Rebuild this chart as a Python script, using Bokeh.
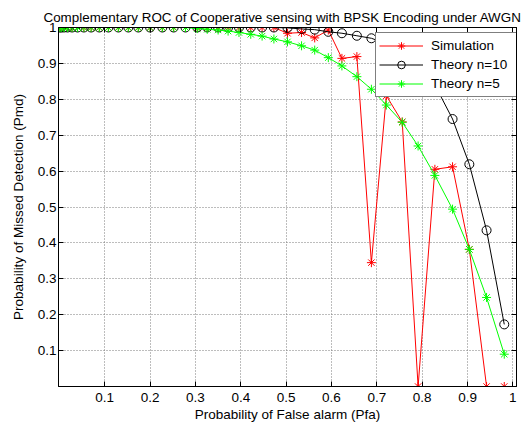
from bokeh.plotting import figure
from bokeh.embed import file_html
from bokeh.resources import INLINE
from bokeh.models import FixedTicker, CustomJSTickFormatter, LinearAxis

# ---- data ----
pfa = [0.001, 0.004, 0.010, 0.018, 0.028, 0.040, 0.054, 0.070, 0.088, 0.108,
       0.130, 0.152, 0.174, 0.200, 0.227, 0.252, 0.278, 0.304, 0.326, 0.350,
       0.372, 0.396, 0.422, 0.447, 0.473, 0.503, 0.534, 0.563, 0.593, 0.623,
       0.656, 0.688, 0.721, 0.756, 0.791, 0.828, 0.867, 0.904, 0.942, 0.981]

pmd_sim = [1.0] * 25 + [0.984, 0.986, 0.971, 0.993, 0.914, 0.919, 0.345, 0.81,
                        0.737, 0.0, 0.605, 0.612, 0.382, 0.0, 0.0]

pmd_n10 = [1.0] * 25 + [0.999, 0.996, 0.994, 0.988, 0.984, 0.977, 0.970, 0.955,
                        0.935, 0.900, 0.840, 0.745, 0.619, 0.435, 0.173]

pmd_n5 = [1.0] * 17 + [0.997, 0.995, 0.993, 0.990, 0.986, 0.981, 0.976, 0.968,
                       0.960, 0.949, 0.937, 0.916, 0.893, 0.863, 0.828, 0.784,
                       0.736, 0.670, 0.588, 0.494, 0.382, 0.248, 0.090]

x_ticks = [0.1, 0.2, 0.3, 0.4, 0.5, 0.6, 0.7, 0.8, 0.9, 1.0]
y_ticks = [0.1, 0.2, 0.3, 0.4, 0.5, 0.6, 0.7, 0.8, 0.9, 1.0]

FONT = "Liberation Sans"
FS = "13.5px"

p = figure(width=522, height=424, x_range=(-0.002, 1.008), y_range=(0, 1),
           output_backend="svg", toolbar_location=None,
           title="Complementary ROC of Cooperative sensing with BPSK Encoding under AWGN")
p.min_border_left = 58
p.min_border_right = 6
p.min_border_top = 27
p.min_border_bottom = 38
p.outline_line_color = "black"
p.background_fill_color = "white"
p.border_fill_color = "white"

p.title.align = "left"
p.title.offset = -15
p.title.text_font = FONT
p.title.text_font_size = "13.4px"
p.title.text_font_style = "normal"
p.title.text_color = "black"
p.title.standoff = 6

fmt = CustomJSTickFormatter(code="return (Math.round(tick*10)/10).toString();")
blank = CustomJSTickFormatter(code="return '';")

def style_axis(ax, ticks, labels=True):
    ax.ticker = FixedTicker(ticks=ticks)
    ax.axis_line_color = "black"
    ax.major_tick_line_color = "black"
    ax.minor_tick_line_color = None
    ax.major_tick_in = 5
    ax.major_tick_out = 0
    if labels:
        ax.formatter = fmt
        ax.major_label_text_font = FONT
        ax.major_label_text_font_size = FS
        ax.major_label_text_color = "black"
        ax.axis_label_text_font = FONT
        ax.axis_label_text_font_size = FS
        ax.axis_label_text_font_style = "normal"
        ax.axis_label_text_color = "black"
    else:
        ax.formatter = blank
        ax.major_label_text_font_size = "0px"
        ax.major_label_standoff = 0

style_axis(p.xaxis[0], x_ticks)
style_axis(p.yaxis[0], y_ticks)
p.xaxis[0].axis_label = "Probability of False alarm (Pfa)"
p.yaxis[0].axis_label = "Probability of Missed Detection (Pmd)"
p.xaxis[0].major_label_standoff = 6
p.xaxis[0].axis_label_standoff = 2
p.yaxis[0].major_label_standoff = 2
p.yaxis[0].axis_label_standoff = 9

ax_r = LinearAxis()
style_axis(ax_r, y_ticks, labels=False)
p.add_layout(ax_r, "right")
ax_t = LinearAxis()
style_axis(ax_t, x_ticks, labels=False)
p.add_layout(ax_t, "above")

p.xgrid.ticker = FixedTicker(ticks=x_ticks)
p.ygrid.ticker = FixedTicker(ticks=y_ticks)
p.grid.grid_line_color = "#7a7a7a"
p.grid.grid_line_dash = "1 2"
p.grid.grid_line_width = 1

# series
p.line(pfa, pmd_sim, line_color="#ff0000", line_width=1, legend_label="Simulation")
p.scatter(pfa, pmd_sim, marker="asterisk", size=9, line_color="#ff0000",
          line_width=1, legend_label="Simulation")

p.line(pfa, pmd_n10, line_color="black", line_width=1, legend_label="Theory n=10")
p.scatter(pfa, pmd_n10, marker="circle", size=9, line_color="black",
          fill_color=None, line_width=1, legend_label="Theory n=10")

p.line(pfa, pmd_n5, line_color="#00ff00", line_width=1, legend_label="Theory n=5")
p.scatter(pfa, pmd_n5, marker="asterisk", size=9, line_color="#00ff00",
          line_width=1, legend_label="Theory n=5")

lg = p.legend[0]
lg.location = (317, 289)
lg.margin = 0
lg.padding = 3
lg.spacing = 0
lg.label_height = 19
lg.glyph_height = 19
lg.glyph_width = 44
lg.label_standoff = 8
lg.label_width = 82
lg.label_text_font = FONT
lg.label_text_font_size = FS
lg.label_text_color = "black"
lg.border_line_color = "black"
lg.border_line_width = 1
lg.background_fill_color = "white"
lg.background_fill_alpha = 1.0

open("out.html", "w").write(file_html(p, INLINE))
